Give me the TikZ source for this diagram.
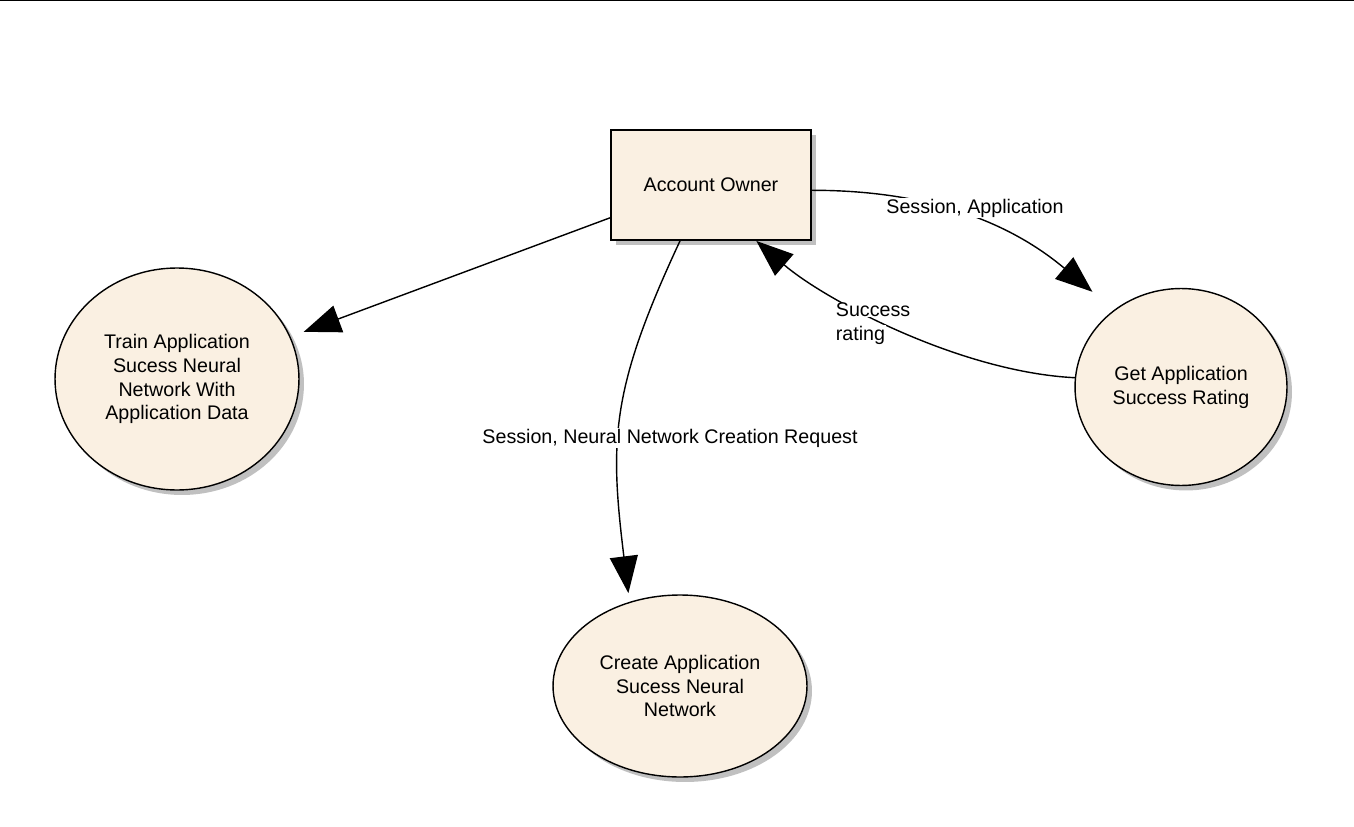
\documentclass[tikz,border=0pt]{standalone}
\usepackage{fontspec}
\setmainfont{Liberation Sans}
\usetikzlibrary{shapes.geometric,shadows,arrows.meta}
\definecolor{cream}{RGB}{250,240,226}
\definecolor{shade}{RGB}{192,192,192}

\tikzset{
  process/.style={ellipse, draw=black, line width=0.8pt, fill=cream, inner sep=0pt,
    drop shadow={shadow xshift=0.1cm, shadow yshift=-0.1cm, fill=shade, opacity=1}},
  entity/.style={rectangle, draw=black, line width=1.1pt, fill=cream,
    minimum width=4cm, minimum height=2.2cm,
    drop shadow={shadow xshift=0.1cm, shadow yshift=-0.1cm, fill=shade, opacity=1}},
  flow/.style={-{Triangle[length=21pt,width=16pt]}, line width=0.8pt},
  lbl/.style={fill=white, inner sep=0.3pt}
}

\begin{document}
\begin{tikzpicture}[x=0.02cm, y=-0.02cm,
  every node/.style={font=\fontsize{11.2}{13.6}\selectfont, align=center}]
  \useasboundingbox (0,0) rectangle (1354,827);
  \draw[line width=1pt] (0,0) -- (1354,0);

  % entity and processes
  \node[entity] (owner) at (711,185) {Account Owner};
  \node[process, minimum width=4.88cm, minimum height=4.44cm] (train) at (177,379)
    {Train Application\\Sucess Neural\\Network With\\Application Data};
  \node[process, minimum width=5.08cm, minimum height=3.64cm] (create) at (680,686)
    {Create Application\\Sucess Neural\\Network};
  \node[process, minimum width=4.24cm, minimum height=3.94cm] (rating) at (1181,387)
    {Get Application\\Success Rating};

  % flows
  \draw[flow, shorten >=8pt] (owner.198) -- (train);
  \draw[flow, shorten >=5pt] (owner.241) to[out=245, in=97, looseness=1.15] (create.121);
  \draw[flow, shorten >=16pt] (owner.-3) to[out=0, in=140] (rating.131);
  \draw[flow] (rating.175) .. controls (960,372) and (825,300) .. (owner.-51);

  % flow labels
  \node[lbl] (lblcreate) at (670,438) {Session, Neural Network Creation Request};
  \node[lbl] (lblapp) at (975,208) {Session, Application};
  \node[lbl, anchor=west] (lblsuccess) at (835,310) {Success};
  \node[lbl, anchor=west] (lblrate) at (835,335) {rating};
\end{tikzpicture}
\end{document}
